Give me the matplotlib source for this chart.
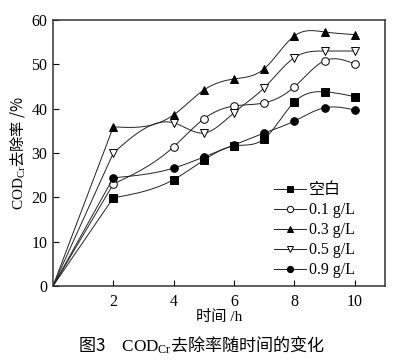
import numpy as np
import matplotlib
matplotlib.use("Agg")
import matplotlib.pyplot as plt

plt.rcParams['font.family'] = ['Liberation Serif', 'Noto Sans CJK SC']
plt.rcParams['mathtext.fontset'] = 'custom'
plt.rcParams['mathtext.rm'] = 'Liberation Serif'
plt.rcParams['mathtext.it'] = 'Liberation Serif:italic'

# time (h)
hours = [0, 2, 4, 5, 6, 7, 8, 9, 10]
# COD removal rate (%)
blank = [0, 19.9, 24.0, 28.4, 31.6, 33.2, 41.5, 43.8, 42.7]
dose_01 = [0, 23.0, 31.4, 37.7, 40.6, 41.3, 44.9, 50.8, 50.1]
dose_03 = [0, 35.9, 38.6, 44.2, 46.7, 49.0, 56.4, 57.3, 56.7]
dose_05 = [0, 30.0, 36.8, 34.5, 39.1, 44.7, 51.5, 53.0, 53.0]
dose_09 = [0, 24.4, 26.6, 29.1, 31.8, 34.5, 37.2, 40.2, 39.7]

labels = ['空白', '0.1 g/L', '0.3 g/L', '0.5 g/L', '0.9 g/L']
markers = [('s', 'k'), ('o', 'white'), ('^', 'k'), ('v', 'white'), ('o', 'k')]


# natural cubic spline, only used to draw the smooth connecting curve
def spline(x, y, n=200):
    x = np.asarray(x, float)
    y = np.asarray(y, float)
    h = np.diff(x)
    m = len(x)
    A = np.zeros((m, m))
    b = np.zeros(m)
    A[0, 0] = 1
    A[-1, -1] = 1
    for i in range(1, m - 1):
        A[i, i - 1] = h[i - 1]
        A[i, i] = 2 * (h[i - 1] + h[i])
        A[i, i + 1] = h[i]
        b[i] = 6 * ((y[i + 1] - y[i]) / h[i] - (y[i] - y[i - 1]) / h[i - 1])
    M = np.linalg.solve(A, b)
    xs = np.linspace(x[0], x[-1], n)
    k = np.clip(np.searchsorted(x, xs) - 1, 0, m - 2)
    t1 = x[k + 1] - xs
    t0 = xs - x[k]
    ys = (M[k] * t1 ** 3 + M[k + 1] * t0 ** 3) / (6 * h[k]) \
        + (y[k] / h[k] - M[k] * h[k] / 6) * t1 \
        + (y[k + 1] / h[k] - M[k + 1] * h[k] / 6) * t0
    return xs, ys


fig = plt.figure(figsize=(4.03, 3.63), dpi=100)
ax = fig.add_axes([0.1315, 0.212, 0.8235, 0.733])

series = [blank, dose_01, dose_03, dose_05, dose_09]
for vals, lab, (mk, fc) in zip(series, labels, markers):
    xs, ys = spline(hours[1:], vals[1:])
    xs = np.concatenate([[hours[0]], xs])
    ys = np.concatenate([[vals[0]], ys])
    ax.plot(xs, ys, color='#222222', lw=0.7)
    ax.plot(hours[1:], vals[1:], ls='none', marker=mk, mfc=fc, mec='k',
            mew=0.7, ms=5.5)
    # handle for the legend
    ax.plot([], [], color='#222222', lw=0.7, marker=mk, mfc=fc, mec='k',
            mew=0.7, ms=4.5, label=lab)

ax.set_xlim(0, 11)
ax.set_ylim(0, 60)
ax.set_xticks([2, 4, 6, 8, 10])
ax.set_yticks([0, 10, 20, 30, 40, 50, 60])
ax.tick_params(direction='in', length=4, width=0.8, labelsize=11.5, pad=4)
ax.tick_params(axis='x', pad=6)
for s in ax.spines.values():
    s.set_linewidth(1.1)
    s.set_color('#333333')

ax.set_xlabel('时间 /h', fontsize=11, labelpad=0)
ax.set_ylabel(r'$\mathrm{COD_{Cr}}$去除率 /%', fontsize=11,
              family='Noto Sans CJK SC', labelpad=3)

ax.legend(loc='upper left', bbox_to_anchor=(0.665, 0.39), frameon=False,
          fontsize=11.5, handlelength=2.0, handletextpad=0.2, labelspacing=0.25,
          borderpad=0, borderaxespad=0)

fig.text(0.5, 0.048, r'图3　$\mathrm{COD_{Cr}}$去除率随时间的变化',
         ha='center', va='center', fontsize=12.3, family='Noto Sans CJK SC')

fig.savefig('out.png', dpi=100)
